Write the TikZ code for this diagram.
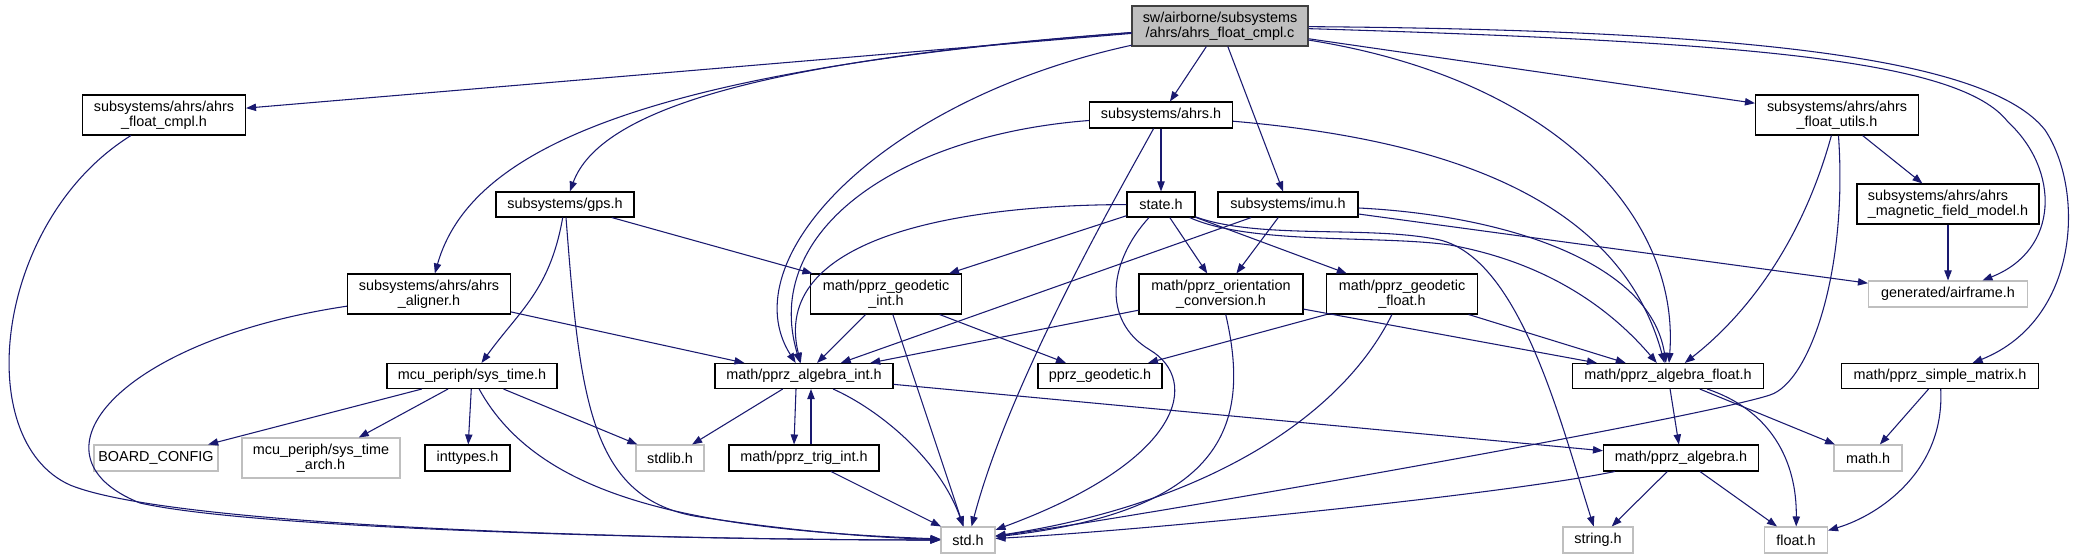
\documentclass[tikz,border=0pt]{standalone}
\usepackage{fontspec}
\setmainfont{Liberation Sans}
\usetikzlibrary{arrows.meta}
\definecolor{edgec}{HTML}{191970}
\definecolor{grayb}{HTML}{BFBFBF}
\definecolor{rootd}{HTML}{404040}
\newcommand\lbl{\fontsize{10.8pt}{11.5pt}\selectfont}
\tikzset{
  nb/.style={draw=black, line width=0.8pt, fill=white, inner sep=0pt, align=center, font=\lbl},
  ng/.style={nb, draw=grayb},
  sz/.style 2 args={minimum width=#1*0.75pt, minimum height=#2*0.75pt},
  dep/.style={draw=edgec, line width=0.8pt, -{Triangle[length=7.5pt,width=5.5pt]}}
}
\begin{document}
\begin{tikzpicture}[x=0.75pt, y=-0.75pt]
\fill[white] (0,0) rectangle (2080,559);
\useasboundingbox (0,0) rectangle (2080,559);
% nodes
\node[nb, sz={176}{40}, fill=grayb, draw=rootd] (root) at (1220,26) {sw/airborne/subsystems\\/ahrs/ahrs\_float\_cmpl.c};
\node[nb, sz={163}{40}] (fcmpl) at (164,115) {subsystems/ahrs/ahrs\\\_float\_cmpl.h};
\node[nb, sz={138}{25}] (gps) at (565,204.5) {subsystems/gps.h};
\node[nb, sz={163}{40}] (aligner) at (429,294) {subsystems/ahrs/ahrs\\\_aligner.h};
\node[nb, sz={143}{26}] (ahrs) at (1161,115) {subsystems/ahrs.h};
\node[nb, sz={68}{25}] (state) at (1161,204.5) {state.h};
\node[nb, sz={140}{25}] (imu) at (1288,204.5) {subsystems/imu.h};
\node[nb, sz={163}{40}] (futils) at (1837,115) {subsystems/ahrs/ahrs\\\_float\_utils.h};
\node[nb, sz={182}{40}, align=left] (magnetic) at (1948,204) {subsystems/ahrs/ahrs\\\_magnetic\_field\_model.h};
\node[ng, sz={159}{26}] (airframe) at (1948,294) {generated/airframe.h};
\node[nb, sz={151}{40}] (geoint) at (886,294) {math/pprz\_geodetic\\\_int.h};
\node[nb, sz={164}{40}] (orient) at (1221,294) {math/pprz\_orientation\\\_conversion.h};
\node[nb, sz={151}{40}] (geofloat) at (1402,294) {math/pprz\_geodetic\\\_float.h};
\node[nb, sz={178}{25}] (algint) at (804,376) {math/pprz\_algebra\_int.h};
\node[nb, sz={124}{25}] (geodetic) at (1100,376) {pprz\_geodetic.h};
\node[nb, sz={170}{25}] (systime) at (472,376) {mcu\_periph/sys\_time.h};
\node[nb, sz={191}{25}] (algfloat) at (1668,376) {math/pprz\_algebra\_float.h};
\node[nb, sz={197}{25}] (simplem) at (1940,376) {math/pprz\_simple\_matrix.h};
\node[ng, sz={124}{26}] (board) at (156,458) {BOARD\_CONFIG};
\node[ng, sz={158}{40}] (arch) at (321,458) {mcu\_periph/sys\_time\\\_arch.h};
\node[nb, sz={85}{26}] (inttypes) at (467.5,458) {inttypes.h};
\node[ng, sz={68}{26}] (stdlib) at (670,458) {stdlib.h};
\node[nb, sz={150}{26}] (trig) at (804,458) {math/pprz\_trig\_int.h};
\node[ng, sz={54}{26}] (std) at (968,540) {std.h};
\node[nb, sz={155}{26}] (algebra) at (1681,458) {math/pprz\_algebra.h};
\node[ng, sz={68}{26}] (mathh) at (1868,458) {math.h};
\node[ng, sz={70}{26}] (stringh) at (1598,540) {string.h};
\node[ng, sz={63}{26}] (floath) at (1796,540) {float.h};
% edges from root
\draw[dep] (root) -- (fcmpl);
\draw[dep] (root) .. controls (760,60) and (600,110) .. (gps);
\draw[dep] (root) .. controls (640,70) and (470,150) .. (aligner);
\draw[dep] (root) -- (ahrs);
\draw[dep] (root) -- (imu);
\draw[dep] (root) -- (futils);
\draw[dep] (root) .. controls (880,100) and (730,260) .. (algint);
\draw[dep] (root) .. controls (1560,80) and (1680,220) .. (algfloat);
\draw[dep] (root) .. controls (1750,42) and (1960,60) .. (2008,122) .. controls (2060,170) and (2060,250) .. (airframe);
\draw[dep] (root) .. controls (1760,30) and (1990,60) .. (2045,130) .. controls (2085,190) and (2080,320) .. (simplem);
% fcmpl
\draw[dep] (fcmpl) .. controls (-5,220) and (-30,440) .. (70,485) .. controls (180,530) and (700,540) .. (std);
% gps
\draw[dep] (gps) .. controls (550,290) and (520,310) .. (systime);
\draw[dep] (gps) -- (geoint);
\draw[dep] (gps) .. controls (580,400) and (590,500) .. (700,517) .. controls (800,532) and (880,538) .. (std);
% aligner
\draw[dep] (aligner) -- (algint);
\draw[dep] (aligner) .. controls (120,340) and (20,455) .. (140,503) .. controls (260,530) and (700,540) .. (std);
% ahrs
\draw[dep] (ahrs) -- (state);
\draw[dep] (ahrs) .. controls (1120,190) and (1010,380) .. (std);
\draw[dep] (ahrs) .. controls (900,135) and (760,230) .. (algint);
\draw[dep] (ahrs) .. controls (1450,140) and (1620,200) .. (algfloat);
% state
\draw[dep] (state) .. controls (950,205) and (770,240) .. (algint);
\draw[dep] (state) -- (geoint);
\draw[dep] (state) .. controls (1110,260) and (1100,320) .. (1150,350) .. controls (1200,380) and (1185,460) .. (std);
\draw[dep] (state) -- (orient);
\draw[dep] (state) -- (geofloat);
\draw[dep] (state) .. controls (1250,245) and (1380,235) .. (1450,245) .. controls (1560,265) and (1620,320) .. (algfloat);
\draw[dep] (state) .. controls (1260,240) and (1370,225) .. (1440,240) .. controls (1520,260) and (1560,420) .. (stringh);
% imu
\draw[dep] (imu) -- (orient);
\draw[dep] (imu) -- (algint);
\draw[dep] (imu) .. controls (1500,215) and (1650,260) .. (algfloat);
\draw[dep] (imu) -- (airframe);
% futils
\draw[dep] (futils) -- (magnetic);
\draw[dep] (futils) .. controls (1800,250) and (1740,320) .. (algfloat);
\draw[dep] (futils) .. controls (1848,270) and (1810,382) .. (1770,395) .. controls (1700,418) and (1150,515) .. (std);
\draw[dep] (magnetic) -- (airframe);
% geoint
\draw[dep] (geoint) -- (algint);
\draw[dep] (geoint) -- (geodetic);
\draw[dep] (geoint) -- (std);
% orient
\draw[dep] (orient) -- (algint);
\draw[dep] (orient) -- (algfloat);
\draw[dep] (orient) .. controls (1250,420) and (1230,510) .. (std);
% geofloat
\draw[dep] (geofloat) -- (geodetic);
\draw[dep] (geofloat) -- (algfloat);
\draw[dep] (geofloat) .. controls (1340,420) and (1200,505) .. (std);
% algint
\draw[dep] (algint) -- (stdlib);
\draw[dep] ([xshift=-6pt]algint.south) -- ([xshift=-7.5pt]trig.north);
\draw[dep] ([xshift=5.25pt]trig.north) -- ([xshift=5.25pt]algint.south);
\draw[dep] (algint) .. controls (880,410) and (940,460) .. (std);
\draw[dep] (algint) -- (algebra);
\draw[dep] (trig) -- (std);
% systime
\draw[dep] (systime) -- (board);
\draw[dep] (systime) -- (arch);
\draw[dep] (systime) -- (inttypes);
\draw[dep] (systime) -- (stdlib);
\draw[dep] (systime) .. controls (540,500) and (700,530) .. (std);
% algfloat
\draw[dep] (algfloat) -- (algebra);
\draw[dep] (algfloat) -- (mathh);
\draw[dep] (algfloat) .. controls (1770,410) and (1797,460) .. (floath);
% simplem
\draw[dep] (simplem) -- (mathh);
\draw[dep] (simplem) .. controls (1945,470) and (1880,515) .. (floath);
% algebra
\draw[dep] (algebra) -- (stringh);
\draw[dep] (algebra) -- (floath);
\draw[dep] (algebra) .. controls (1500,495) and (1150,530) .. (std);
\end{tikzpicture}
\end{document}
